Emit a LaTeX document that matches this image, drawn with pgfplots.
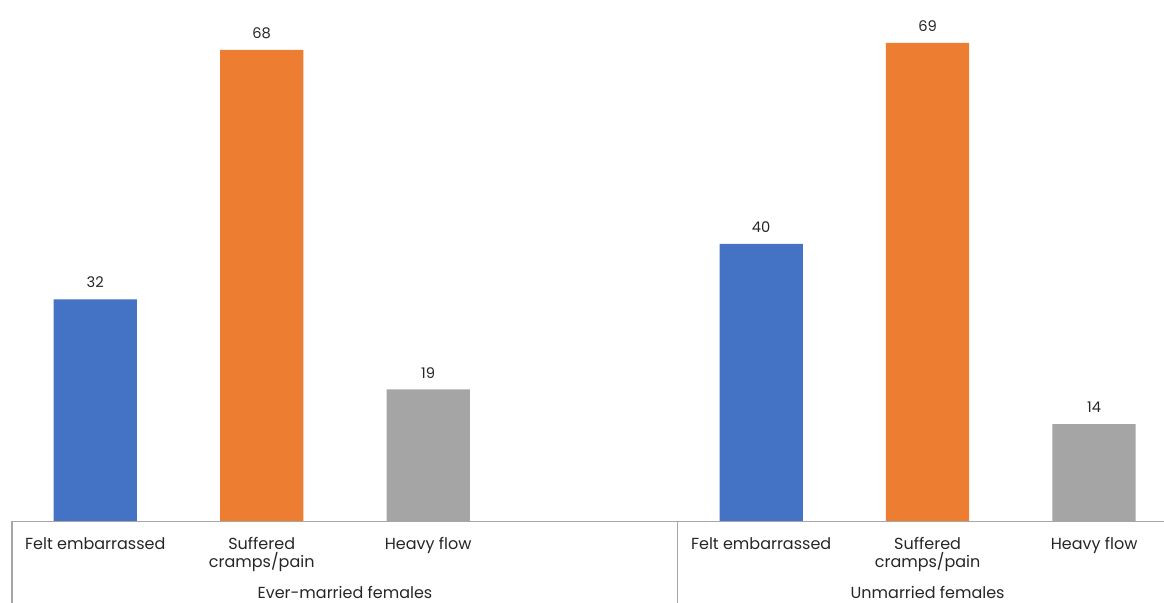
\documentclass[border=0pt]{standalone}
\usepackage{pgfplots}
\pgfplotsset{compat=1.18}
\usepackage{fontspec}
\setmainfont{Poppins}
\definecolor{cblue}{HTML}{4472C4}
\definecolor{corange}{HTML}{ED7D31}
\definecolor{cgray}{HTML}{A5A5A5}
\definecolor{axgray}{HTML}{A6A6A6}
\tikzset{catlab/.style={anchor=north, align=center, font=\fontsize{12}{13.5}\selectfont, text=black!85, inner sep=0pt}}
\begin{document}
\begin{tikzpicture}
\begin{axis}[
  x=124.875pt, y=5.1975pt,
  xmin=-0.5, xmax=6.42, ymin=0, ymax=75.2,
  axis lines=none,
  clip=false,
  ybar, bar width=0.5, bar shift=0pt,
  nodes near coords,
  /pgf/number format/assume math mode=true,
  every node near coord/.append style={font=\fontsize{11}{12}\selectfont, text=black!85, yshift=5pt},
]
\addplot[fill=cblue, draw=none] coordinates {(0,32) (4,40)};
\addplot[fill=corange, draw=none] coordinates {(1,68) (5,69)};
\addplot[fill=cgray, draw=none] coordinates {(2,19) (6,14)};
\draw[axgray, line width=0.8pt] (axis cs:-0.5,0) -- (axis cs:6.42,0);
\draw[axgray, line width=0.8pt] (axis cs:-0.5,0) -- (axis cs:-0.5,-12);
\draw[axgray, line width=0.8pt] (axis cs:3.5,0) -- (axis cs:3.5,-12);
\node[catlab] at (axis cs:0,-2.3) {Felt embarrassed};
\node[catlab] at (axis cs:1,-2.3) {Suffered\\cramps/pain};
\node[catlab] at (axis cs:2,-2.3) {Heavy flow};
\node[catlab] at (axis cs:4,-2.3) {Felt embarrassed};
\node[catlab] at (axis cs:5,-2.3) {Suffered\\cramps/pain};
\node[catlab] at (axis cs:6,-2.3) {Heavy flow};
\node[catlab, anchor=south] at (axis cs:1.5,-11.2) {Ever-married females};
\node[catlab, anchor=south] at (axis cs:5,-11.2) {Unmarried females};
\coordinate (bbA) at (axis cs:-0.5721,75.2);
\coordinate (bbB) at (axis cs:6.42,-11.69);
\end{axis}
\pgfresetboundingbox
\useasboundingbox (bbA) rectangle (bbB);
\end{tikzpicture}
\end{document}
